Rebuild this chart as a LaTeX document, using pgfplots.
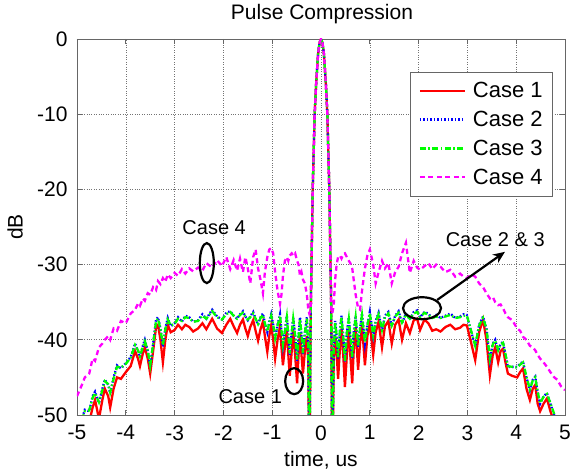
\documentclass[border=0pt]{standalone}
\usepackage{fontspec}
\setmainfont{Liberation Sans}
\usepackage{pgfplots}
\usepackage{pgfplotstable}
\pgfplotsset{compat=1.18}
\usetikzlibrary{arrows.meta}
\definecolor{cred}{RGB}{255,0,0}
\definecolor{cblue}{RGB}{0,0,255}
\definecolor{cgreen}{RGB}{0,255,0}
\definecolor{cmag}{RGB}{255,0,255}
\pgfplotstableread{
x c1 c2 c3 c4
-5.00 -53.0 -52.0 -52.2 -47.5
-4.90 -51.5 -50.5 -50.6 -46.0
-4.84 -50.5 -49.3 -49.5 -45.0
-4.75 -51.0 -49.5 -49.4 -44.5
-4.68 -49.0 -47.5 -47.7 -42.5
-4.63 -48.0 -46.9 -47.1 -42.8
-4.55 -50.5 -48.4 -48.3 -41.0
-4.48 -48.0 -46.5 -46.7 -40.5
-4.43 -46.5 -45.3 -45.5 -40.0
-4.36 -47.5 -46.0 -45.9 -39.5
-4.32 -49.0 -47.1 -47.0 -40.0
-4.25 -46.5 -45.0 -45.2 -38.5
-4.18 -45.0 -43.4 -43.6 -38.8
-4.10 -45.2 -43.8 -43.7 -37.5
-4.00 -44.3 -43.1 -43.2 -37.8
-3.90 -43.5 -42.3 -42.4 -36.5
-3.81 -41.5 -40.5 -40.7 -36.0
-3.75 -42.5 -41.5 -41.4 -35.2
-3.71 -43.5 -42.3 -42.2 -35.5
-3.65 -41.8 -40.8 -40.9 -34.5
-3.61 -41.0 -40.0 -40.2 -34.8
-3.55 -42.5 -41.5 -41.4 -33.8
-3.50 -44.5 -43.6 -43.4 -34.0
-3.44 -41.5 -40.5 -40.6 -33.0
-3.38 -38.3 -37.3 -37.5 -33.4
-3.34 -38.0 -37.0 -37.2 -32.2
-3.29 -40.0 -38.5 -38.6 -32.6
-3.24 -43.0 -40.9 -40.7 -31.8
-3.19 -40.0 -38.5 -38.6 -32.3
-3.14 -38.0 -37.1 -37.3 -31.3
-3.08 -39.0 -38.2 -38.1 -31.8
-3.00 -38.7 -37.8 -37.9 -31.1
-2.93 -38.0 -37.0 -37.2 -31.5
-2.85 -38.6 -37.6 -37.5 -30.6
-2.78 -38.0 -36.8 -37.0 -31.2
-2.70 -38.3 -37.0 -37.1 -30.5
-2.62 -38.9 -37.6 -37.6 -30.9
-2.52 -38.5 -37.4 -37.5 -30.4
-2.43 -37.8 -36.6 -36.8 -30.8
-2.35 -38.6 -37.2 -37.2 -29.8
-2.23 -37.2 -36.0 -36.2 -30.4
-2.13 -38.5 -36.9 -37.0 -29.4
-2.03 -39.1 -37.3 -37.3 -30.2
-1.94 -38.0 -36.4 -36.6 -29.0
-1.86 -37.2 -36.2 -36.3 -30.6
-1.79 -38.2 -36.8 -36.8 -29.4
-1.72 -39.1 -37.2 -37.2 -30.8
-1.66 -38.0 -36.6 -36.7 -29.2
-1.60 -37.3 -36.2 -36.4 -31.0
-1.55 -38.5 -36.9 -36.9 -29.0
-1.50 -39.5 -37.4 -37.3 -30.5
-1.45 -38.3 -36.9 -37.0 -32.5
-1.39 -37.4 -36.3 -36.5 -29.0
-1.34 -38.8 -37.2 -37.2 -28.0
-1.29 -40.1 -38.0 -37.9 -30.5
-1.24 -38.6 -37.0 -37.1 -32.0
-1.19 -37.6 -36.5 -36.7 -33.8
-1.15 -39.5 -37.8 -37.8 -31.0
-1.10 -41.6 -39.0 -38.9 -29.0
-1.06 -39.5 -37.6 -37.7 -28.0
-1.02 -38.1 -36.6 -36.8 -27.8
-0.98 -40.0 -38.0 -38.0 -28.5
-0.94 -42.5 -40.0 -39.8 -31.0
-0.89 -40.0 -38.0 -38.1 -33.5
-0.84 -38.2 -36.6 -36.8 -35.2
-0.81 -41.0 -38.8 -38.7 -34.0
-0.78 -43.4 -40.8 -40.6 -31.5
-0.74 -41.0 -38.8 -38.9 -29.5
-0.70 -38.5 -36.8 -37.0 -29.0
-0.67 -42.0 -39.5 -39.4 -29.5
-0.64 -44.8 -42.0 -41.8 -28.8
-0.60 -41.5 -39.0 -39.1 -28.5
-0.57 -38.7 -37.0 -37.2 -28.8
-0.53 -42.0 -39.5 -39.4 -28.5
-0.49 -45.8 -42.8 -42.6 -29.5
-0.46 -42.0 -39.5 -39.6 -30.0
-0.43 -39.1 -37.0 -37.2 -31.5
-0.40 -42.0 -39.5 -39.4 -31.0
-0.37 -44.5 -42.0 -41.8 -32.0
-0.33 -41.5 -39.0 -39.1 -32.5
-0.29 -39.5 -37.0 -37.2 -34.0
-0.26 -43.0 -41.0 -40.9 -36.0
-0.24 -60.0 -60.0 -60.0 -36.5
-0.21 -36.0 -36.0 -36.0 -36.0
-0.195 -30.0 -30.0 -30.0 -30.0
-0.17 -20.0 -20.0 -20.0 -20.0
-0.13 -10.0 -10.0 -10.0 -10.0
-0.10 -6.0 -6.0 -6.0 -6.0
-0.06 -2.0 -2.0 -2.0 -2.0
-0.03 -0.5 -0.5 -0.5 -0.5
0.00 0.0 0.0 0.0 0.0
0.03 -0.5 -0.5 -0.5 -0.5
0.06 -2.0 -2.0 -2.0 -2.0
0.10 -6.0 -6.0 -6.0 -6.0
0.13 -10.0 -10.0 -10.0 -10.0
0.17 -20.0 -20.0 -20.0 -20.0
0.195 -30.0 -30.0 -30.0 -30.0
0.21 -36.0 -36.0 -36.0 -36.0
0.23 -60.0 -60.0 -60.0 -36.5
0.26 -43.0 -41.5 -41.3 -35.5
0.29 -39.5 -37.5 -37.7 -32.0
0.32 -41.5 -39.5 -39.4 -30.0
0.35 -45.2 -42.5 -42.3 -29.0
0.39 -41.0 -38.5 -38.6 -28.8
0.42 -38.5 -36.8 -37.0 -29.2
0.46 -42.5 -40.0 -39.9 -28.6
0.49 -46.3 -43.0 -42.8 -28.5
0.53 -42.0 -39.0 -39.1 -29.0
0.57 -38.5 -37.0 -37.2 -29.5
0.60 -42.0 -39.5 -39.4 -29.8
0.64 -45.8 -42.5 -42.3 -30.5
0.67 -41.5 -39.0 -39.1 -32.0
0.71 -38.3 -36.8 -37.0 -34.0
0.76 -44.0 -41.0 -40.8 -35.8
0.80 -40.5 -38.5 -38.6 -36.0
0.84 -38.0 -36.5 -36.7 -33.5
0.90 -43.4 -40.5 -40.3 -30.5
0.95 -39.5 -38.0 -38.1 -28.8
1.00 -37.8 -36.3 -36.5 -28.0
1.07 -42.0 -39.5 -39.4 -30.0
1.12 -39.0 -37.5 -37.6 -32.5
1.18 -37.6 -36.4 -36.6 -31.0
1.25 -41.0 -38.8 -38.7 -29.5
1.31 -38.2 -36.8 -37.0 -30.5
1.38 -37.5 -36.3 -36.5 -29.8
1.45 -40.5 -38.2 -38.1 -32.5
1.52 -38.0 -36.8 -36.9 -31.0
1.59 -37.3 -36.2 -36.4 -30.3
1.66 -40.0 -37.8 -37.7 -28.5
1.74 -37.8 -36.5 -36.6 -27.1
1.82 -39.1 -37.3 -37.2 -31.1
1.90 -37.4 -36.3 -36.5 -29.5
1.97 -37.2 -36.1 -36.3 -30.4
2.03 -38.7 -37.0 -37.0 -30.7
2.12 -37.3 -36.3 -36.4 -30.2
2.20 -37.8 -36.5 -36.7 -29.8
2.28 -38.8 -37.2 -37.1 -30.6
2.36 -38.6 -36.7 -36.9 -30.0
2.45 -38.9 -37.1 -37.1 -30.3
2.55 -38.3 -36.8 -36.9 -31.0
2.65 -38.0 -36.5 -36.7 -30.7
2.75 -38.6 -37.1 -37.1 -31.6
2.85 -38.4 -36.9 -37.0 -31.2
2.92 -38.0 -36.6 -36.8 -31.6
2.99 -38.1 -36.7 -36.8 -31.8
3.08 -40.5 -39.0 -38.9 -31.3
3.16 -42.7 -40.9 -40.8 -31.6
3.24 -39.0 -38.0 -38.1 -32.5
3.32 -37.3 -36.9 -37.1 -33.0
3.39 -40.0 -38.5 -38.5 -33.8
3.46 -44.7 -42.7 -42.5 -34.5
3.52 -42.0 -40.5 -40.6 -34.3
3.57 -41.0 -40.0 -40.1 -35.0
3.63 -43.0 -41.5 -41.4 -35.4
3.68 -41.5 -40.5 -40.6 -35.3
3.73 -41.2 -40.3 -40.4 -35.8
3.78 -43.0 -42.0 -41.9 -36.5
3.83 -44.5 -43.6 -43.5 -37.0
3.92 -44.8 -43.6 -43.6 -37.4
4.02 -45.0 -43.6 -43.7 -38.5
4.08 -44.3 -43.2 -43.3 -38.8
4.14 -43.8 -42.9 -43.0 -39.6
4.21 -46.5 -45.0 -44.9 -40.0
4.28 -48.0 -46.7 -46.6 -40.8
4.34 -46.5 -45.3 -45.4 -41.0
4.39 -46.0 -44.9 -45.0 -41.4
4.44 -48.5 -47.0 -46.9 -42.0
4.49 -49.5 -48.5 -48.4 -42.5
4.56 -48.5 -47.5 -47.6 -43.0
4.63 -47.8 -47.1 -47.2 -43.6
4.70 -49.5 -48.5 -48.4 -44.3
4.78 -51.0 -50.0 -49.9 -45.0
4.84 -52.0 -51.0 -51.1 -45.3
4.92 -52.0 -51.0 -51.0 -46.2
5.00 -53.0 -52.0 -52.2 -46.7
}\datatable
\begin{document}
\begin{tikzpicture}
\path[use as bounding box] (-77pt,-55pt) rectangle (509pt,415pt);
\begin{axis}[
  scale only axis, width=488pt, height=376pt,
  xmin=-5, xmax=5, ymin=-50, ymax=0,
  xtick={-5,-4,...,5}, ytick={-50,-40,...,0},
  /pgf/number format/assume math mode=true,
  tick label style={font=\fontsize{21}{25}\selectfont},
  xticklabel style={yshift=-7pt},
  yticklabel style={xshift=-6pt},
  tick align=inside, major tick length=5pt,
  axis line style={black!60, line width=0.8pt},
  every tick/.style={black!60, line width=0.8pt},
  grid=major,
  major grid style={black!55, dotted, line width=0.6pt},
  every axis title shift=0pt,
  title={Pulse Compression},
  title style={font=\fontsize{21}{25}\selectfont, at={(axis description cs:0.502,1.0665)}, anchor=center},
  xlabel={time, us},
  xlabel style={font=\fontsize{21}{25}\selectfont, at={(axis description cs:0.5,-0.12)}, anchor=center},
  ylabel={dB},
  ylabel style={font=\fontsize{21}{25}\selectfont, at={(axis description cs:-0.127,0.5)}, anchor=center},
  legend style={at={(0.975,0.912)}, anchor=north east, draw=black!60, fill=white,
    font=\fontsize{22}{26}\selectfont, row sep=8pt, inner sep=8pt},
  legend cell align=left,
  legend image code/.code={\draw (0pt,0pt) -- (45pt,0pt); \path (50pt,0pt);},
]
\addplot[color=cred, line width=2.3pt] table[x=x, y=c1] {\datatable};
\addlegendentry{Case 1}
\addplot[color=cblue, line width=2.3pt, dash pattern=on 1.5pt off 2pt] table[x=x, y=c2] {\datatable};
\addlegendentry{Case 2}
\addplot[color=cgreen, line width=2.3pt, dash pattern=on 6pt off 2.5pt on 1.5pt off 2.5pt] table[x=x, y=c3] {\datatable};
\addlegendentry{Case 3}
\addplot[color=cmag, line width=2.3pt, dash pattern=on 5pt off 3.5pt] table[x=x, y=c4] {\datatable};
\addlegendentry{Case 4}
\draw[line width=2.2pt] (axis cs:-2.34,-29.8) ellipse [x radius=7pt, y radius=20pt];
\node[font=\fontsize{20}{24}\selectfont] at (axis cs:-2.19,-25.1) {Case 4};
\draw[line width=2.2pt] (axis cs:-0.55,-45.5) ellipse [x radius=9pt, y radius=13pt];
\node[font=\fontsize{20}{24}\selectfont] at (axis cs:-1.45,-47.5) {Case 1};
\draw[line width=2.2pt] (axis cs:2.07,-35.8) ellipse [x radius=19pt, y radius=11pt];
\node[font=\fontsize{20}{24}\selectfont] at (axis cs:3.57,-26.7) {Case 2 \& 3};
\draw[line width=2.2pt, -{Stealth[length=12pt, width=10pt]}] (axis cs:2.38,-34.7) -- (axis cs:3.77,-28.3);
\end{axis}
\end{tikzpicture}
\end{document}
